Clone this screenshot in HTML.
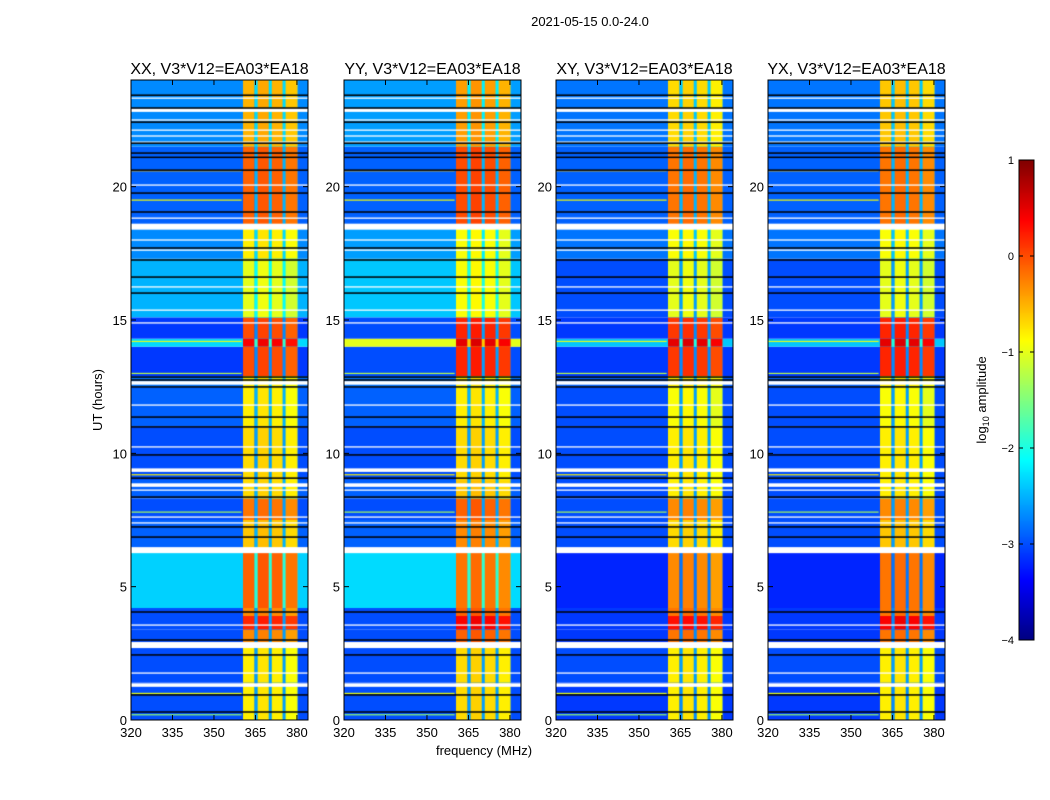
<!DOCTYPE html>
<html><head><meta charset="utf-8"><style>
body{margin:0;background:#fff;width:1050px;height:800px;overflow:hidden;font-family:"Liberation Sans",sans-serif}
#c{position:absolute;left:0;top:0}
svg{position:absolute;left:0;top:0}
</style></head><body>
<canvas id="c" width="1050" height="800"></canvas>
<svg id="s" width="1050" height="800"></svg>
<script>
// ---- data ----
const panelTitles = ["XX, V3*V12=EA03*EA18","YY, V3*V12=EA03*EA18","XY, V3*V12=EA03*EA18","YX, V3*V12=EA03*EA18"];
const segStart = [0,1.4,2.9,3.4,3.9,4.2,6.3,7.5,8.3,9.0,11.0,12.5,12.9,14.0,14.3,15.1,17.3,18.5,21.5];
const bgXX = [-3.0,-3.0,-3.0,-3.0,-3.0,-2.35,-2.9,-3.0,-2.9,-3.0,-2.9,-2.8,-3.1,-2.3,-3.1,-2.5,-2.7,-2.9,-2.7];
const bandXX = [-0.8,-0.8,-0.3,0.2,-0.3,-0.1,-0.6,-0.2,-0.7,-0.7,-0.8,-0.8,0.0,0.4,0.0,-1.0,-0.8,-0.1,-0.5];
const bgYY = [-3.0,-3.0,-3.0,-3.0,-3.0,-2.3,-2.9,-3.0,-2.9,-3.0,-2.9,-2.8,-3.0,-1.0,-3.0,-2.4,-2.6,-2.9,-2.6];
const bandYY = [-0.7,-0.7,-0.1,0.4,-0.1,-0.2,-0.3,-0.1,-0.6,-0.7,-0.8,-0.8,0.2,0.5,0.2,-0.9,-0.9,0.0,-0.4];
const bgXY = [-3.1,-3.0,-3.1,-3.1,-3.1,-3.2,-3.0,-3.0,-3.0,-3.0,-3.0,-2.9,-3.1,-2.4,-3.1,-3.0,-2.8,-2.9,-2.8];
const bandXY = [-0.8,-0.8,-0.2,0.3,-0.2,-0.3,-0.7,-0.3,-0.8,-0.8,-0.9,-0.8,0.1,0.5,0.1,-1.0,-0.9,-0.2,-0.7];
const bgYX = [-3.1,-3.0,-3.1,-3.1,-3.1,-3.2,-3.0,-3.0,-3.0,-3.0,-3.0,-2.9,-3.1,-2.4,-3.1,-3.0,-2.8,-2.9,-2.8];
const bandYX = [-0.8,-0.8,-0.2,0.4,-0.2,-0.2,-0.6,-0.3,-0.8,-0.8,-0.9,-0.8,0.2,0.5,0.2,-1.0,-0.9,-0.2,-0.6];
const subBands = [[360.5,364.6],[365.8,369.8],[370.9,374.8],[375.9,380.2]];
const subOffset = [0,0.05,0,-0.1];
const rfiHours = [20.6,19.5,14.2,13.0,9.2,7.8,1.0,0.2];
const rfiLevel = [-0.6,-0.9,-1.0,-1.2,-0.8,-1.3,-1.0,-1.4];
const whiteHours = [23.32,22.87,22.5,22.12,21.9,21.67,20.06,18.82,18.5,18.0,17.62,16.24,15.37,14.89,12.64,11.81,10.24,9.37,8.81,8.62,7.61,7.39,6.37,3.56,2.81,1.76,1.31];
const whiteThick = [0,1,0,0,0,0,0,0,2,0,0,0,0,0,1,0,0,1,1,0,0,0,2,0,2,0,1];
const blackHours = [23.43,22.95,22.42,21.63,21.26,21.1,20.62,19.76,19.05,17.7,17.25,16.61,16.01,12.86,12.75,12.49,11.36,10.99,9.94,9.07,8.36,7.24,6.86,4.05,3.0,2.44,0.94,0.3];
const xTicks = [320,335,350,365,380];
const yTicks = [0,5,10,15,20];
const cbTicks = [1,0,-1,-2,-3,-4];
const bgs=[bgXX,bgYY,bgXY,bgYX], bands=[bandXX,bandYY,bandXY,bandYX];
// ---- layout ----
const lefts=[131,344,556,768], W=177, T=80, B=720;
const fx=(p,f)=>lefts[p]+(f-320)*177/64;
const hy=h=>B-(h/24)*(B-T);
function jet(v){let x=Math.max(0,Math.min(1,(v+4)/5));const c=t=>Math.round(255*Math.max(0,Math.min(1,1.5-Math.abs(4*x-t))));return `rgb(${c(3)},${c(2)},${c(1)})`;}
const ctx=document.getElementById('c').getContext('2d');
for(let p=0;p<4;p++){
  for(let i=0;i<segStart.length;i++){
    const h0=segStart[i],h1=i+1<segStart.length?segStart[i+1]:24;
    const y0=hy(h1),y1=hy(h0);
    ctx.fillStyle=jet(bgs[p][i]);ctx.fillRect(lefts[p],y0,W,y1-y0);
    ctx.fillStyle=jet(bgs[p][i]+0.4);
    ctx.fillRect(fx(p,subBands[0][1]),y0,fx(p,subBands[3][1])-fx(p,subBands[0][1]),y1-y0);
    subBands.forEach((sb,k)=>{ctx.fillStyle=jet(bands[p][i]+subOffset[k]);ctx.fillRect(fx(p,sb[0]),y0,fx(p,sb[1])-fx(p,sb[0]),y1-y0);});
  }
  rfiHours.forEach((h,k)=>{ctx.fillStyle=jet(rfiLevel[k]);ctx.fillRect(lefts[p],hy(h)-0.5,fx(p,360)-lefts[p],1.2);});
  ctx.fillStyle='#fff';
  whiteHours.forEach((h,k)=>{const t=[1.3,3.5,6][whiteThick[k]];ctx.fillRect(lefts[p],hy(h)-t/2,W,t);});
  ctx.fillStyle='#000';
  blackHours.forEach(h=>ctx.fillRect(lefts[p],hy(h)-0.75,W,1.5));
}
// colorbar
const cbx=1019,cbw=15,cbt=160,cbb=640;
for(let y=cbt;y<cbb;y++){ctx.fillStyle=jet(1-5*(y-cbt)/(cbb-cbt));ctx.fillRect(cbx,y,cbw,1);}
// ---- svg ----
const s=document.getElementById('s');const NS='http://www.w3.org/2000/svg';
function mk(tag,a,txt){const e=document.createElementNS(NS,tag);for(const k in a)e.setAttribute(k,a[k]);if(txt!==undefined)e.textContent=txt;s.appendChild(e);return e;}
let e;
e=mk('text',{x:590,y:26,'text-anchor':'middle','font-size':13},'2021-05-15 0.0-24.0');


for(let p=0;p<4;p++){
  e=mk('rect',{x:lefts[p],y:T,width:W,height:B-T,fill:'none',stroke:'#000','stroke-width':1});
  
  
  e=mk('text',{x:lefts[p]+W/2,y:74,'text-anchor':'middle','font-size':16},panelTitles[p]);
  
  
  xTicks.forEach(v=>{const x=fx(p,v);
    mk('line',{x1:x,x2:x,y1:B,y2:B-5,stroke:'#000'});mk('line',{x1:x,x2:x,y1:T,y2:T+5,stroke:'#000'});
    e=mk('text',{x:x,y:B+17,'text-anchor':'middle','font-size':13},v);
    
    });
  yTicks.forEach(v=>{const y=hy(v);
    mk('line',{x1:lefts[p],x2:lefts[p]+5,y1:y,y2:y,stroke:'#000'});mk('line',{x1:lefts[p]+W,x2:lefts[p]+W-5,y1:y,y2:y,stroke:'#000'});
    e=mk('text',{x:lefts[p]-4,y:y+5,'text-anchor':'end','font-size':13},v);
    
    });
}
e=mk('text',{x:484,y:755,'text-anchor':'middle','font-size':13},'frequency (MHz)');


e=mk('text',{x:0,y:0,'text-anchor':'middle','font-size':13,transform:'translate(102,400) rotate(-90)'},'UT (hours)');


e=mk('rect',{x:cbx,y:cbt,width:cbw,height:cbb-cbt,fill:'none',stroke:'#000'});


cbTicks.forEach(v=>{const y=cbt+(1-v)/5*(cbb-cbt);
  mk('line',{x1:cbx,x2:cbx+4,y1:y,y2:y,stroke:'#000'});mk('line',{x1:cbx+cbw,x2:cbx+cbw-4,y1:y,y2:y,stroke:'#000'});
  e=mk('text',{x:cbx-5,y:y+4,'text-anchor':'end','font-size':11},v<0?'\u2212'+(-v):v);
  
  });
e=mk('text',{x:0,y:0,'text-anchor':'middle','font-size':13,transform:'translate(986,400) rotate(-90)'});
e.innerHTML='log<tspan font-size="9" dy="3">10</tspan><tspan dy="-3"> amplitude</tspan>';


</script>
</body></html>
